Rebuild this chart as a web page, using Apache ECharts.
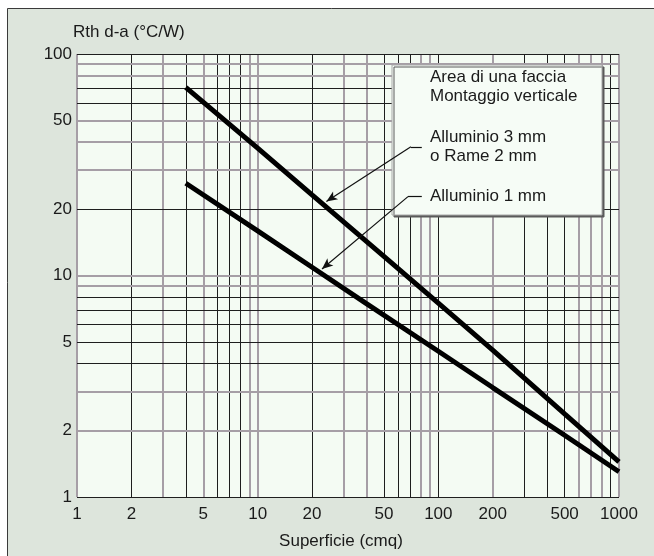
<!DOCTYPE html>
<html>
<head>
<meta charset="utf-8">
<title>Rth dissipatore</title>
<script src="https://cdn.jsdelivr.net/npm/echarts@6.0.0/dist/echarts.min.js"></script>
<style>
  html, body { margin: 0; padding: 0; background: #fff; }
  #chart { width: 654px; height: 556px; }
</style>
</head>
<body>
<div id="chart"></div>
<script>
  // dati (log-log)
  const areaAl3 = [4, 10, 20, 50, 100, 200, 500, 1000];
  const rthAl3 = [70.7, 37.6, 23.1, 12.2, 7.5, 4.6, 2.37, 1.44];
  const areaAl1 = [4, 10, 20, 40, 100, 200, 500, 1000];
  const rthAl1 = [26.1, 15.9, 10.9, 7.47, 4.55, 3.12, 1.9, 1.3];

  // righe della carta logaritmica
  const gridX = [1, 2, 3, 4, 5, 6, 7, 8, 9, 10, 20, 30, 40, 50, 60, 70, 80, 90, 100, 200, 300, 400, 500, 600, 700, 800, 900, 1000];
  const gridY = [1, 2, 3, 4, 5, 6, 7, 8, 9, 10, 20, 30, 40, 50, 60, 70, 80, 90, 100];
  const xTickLabels = [1, 2, 5, 10, 20, 50, 100, 200, 500, 1000];
  const yTickLabels = [1, 2, 5, 10, 20, 50, 100];
  // righe che nella scansione risultano chiare
  const lightX = [1, 3, 5, 9, 10, 30, 40, 80, 90, 200, 600, 700, 800, 1000];
  const lightY = [2, 3, 9, 10, 30, 40, 50, 80, 90];

  // frecce della legenda: [inizio testo, gomito, punta]
  const leaderAl3 = [[81, 38.1], [70.5, 38.1], [24, 21.6]];
  const leaderAl1 = [[81, 22.7], [67.9, 22.7], [22.7, 10.7]];

  const FONT = '"Liberation Sans", Arial, sans-serif';

  const zip = (xs, ys) => xs.map((x, i) => [x, ys[i]]);

  function gridLine(axis, v, light, labels, dist) {
    let item = {};
    item[axis] = v;
    item.lineStyle = light
      ? { color: '#a69ea6', width: 2, type: 'solid' }
      : { color: '#1e1e1e', width: 1, type: 'solid' };
    item.label = {
      show: labels.indexOf(v) >= 0,
      position: 'start',
      formatter: String(v),
      distance: dist,
      color: '#1a1a1a',
      fontSize: 17,
      fontFamily: FONT
    };
    return item;
  }

  function leader(pts) {
    return [
      [{ coord: pts[0] }, { coord: pts[1] }],
      [{ coord: pts[1] }, { coord: pts[2], symbol: 'arrow', symbolSize: [7, 11] }]
    ];
  }

  let gridLines = [];
  for (let v of gridX) gridLines.push(gridLine('xAxis', v, lightX.indexOf(v) >= 0, xTickLabels, 9));
  for (let v of gridY) gridLines.push(gridLine('yAxis', v, lightY.indexOf(v) >= 0, yTickLabels, 5));

  const legendText = [
    { text: 'Area di una faccia', y: 77 },
    { text: 'Montaggio verticale', y: 96 },
    { text: 'Alluminio 3 mm', y: 137 },
    { text: 'o Rame 2 mm', y: 156 },
    { text: 'Alluminio 1 mm', y: 196 }
  ];

  let myChart = echarts.init(document.getElementById('chart'), null, { renderer: 'canvas' });
  myChart.setOption({
    animation: false,
    backgroundColor: '#ffffff',
    grid: {
      left: 77,
      top: 54,
      right: 35,
      bottom: 59,
      show: true,
      backgroundColor: '#f4fbf3',
      borderWidth: 0,
      containLabel: false,
      outerBoundsMode: 'none'
    },
    xAxis: {
      type: 'log',
      logBase: 10,
      min: 1,
      max: 1000,
      axisLine: { show: false },
      axisTick: { show: false },
      axisLabel: { show: false },
      splitLine: { show: false },
      name: 'Superficie (cmq)',
      nameLocation: 'middle',
      nameGap: 36,
      nameTextStyle: { color: '#1a1a1a', fontSize: 17, fontFamily: FONT, padding: [0, 14, 0, 0] }
    },
    yAxis: {
      type: 'log',
      logBase: 10,
      min: 1,
      max: 100,
      axisLine: { show: false },
      axisTick: { show: false },
      axisLabel: { show: false },
      splitLine: { show: false },
      name: 'Rth d-a (°C/W)',
      nameLocation: 'end',
      nameGap: 13,
      nameTextStyle: { color: '#1a1a1a', fontSize: 17, fontFamily: FONT, align: 'left', padding: [0, 0, 0, -4] }
    },
    graphic: [
      {
        type: 'rect', z: -100, silent: true,
        shape: { x: 7.5, y: 8.5, width: 700, height: 600 },
        style: { fill: '#dde5dc', stroke: '#3a3a3a', lineWidth: 1 }
      },
      {
        type: 'rect', z: 50, silent: true,
        shape: { x: 392, y: 65, width: 210, height: 150 },
        style: {
          fill: '#f6fcf6', stroke: '#a8a8a8', lineWidth: 1,
          shadowColor: '#5a5a5a', shadowOffsetX: 2, shadowOffsetY: 2, shadowBlur: 0
        }
      }
    ].concat(legendText.map(t => ({
      type: 'text', z: 51, silent: true,
      x: 430, y: t.y,
      style: {
        text: t.text, fill: '#1a1a1a', fontSize: 17, fontFamily: FONT,
        align: 'left', verticalAlign: 'middle'
      }
    }))),
    series: [
      {
        name: 'griglia',
        type: 'line',
        z: 1,
        data: [],
        silent: true,
        markLine: {
          z: 1,
          silent: true,
          symbol: ['none', 'none'],
          animation: false,
          data: gridLines
        }
      },
      {
        name: 'Alluminio 3 mm o Rame 2 mm',
        type: 'line',
        z: 3,
        data: zip(areaAl3, rthAl3),
        showSymbol: false,
        silent: true,
        lineStyle: { color: '#000', width: 5 }
      },
      {
        name: 'Alluminio 1 mm',
        type: 'line',
        z: 3,
        data: zip(areaAl1, rthAl1),
        showSymbol: false,
        silent: true,
        lineStyle: { color: '#000', width: 5 }
      },
      {
        name: 'frecce',
        type: 'line',
        z: 60,
        data: [],
        silent: true,
        markLine: {
          z: 60,
          silent: true,
          symbol: ['none', 'none'],
          animation: false,
          label: { show: false },
          lineStyle: { color: '#111', width: 1.2, type: 'solid' },
          data: leader(leaderAl3).concat(leader(leaderAl1))
        }
      }
    ]
  });
</script>
</body>
</html>
